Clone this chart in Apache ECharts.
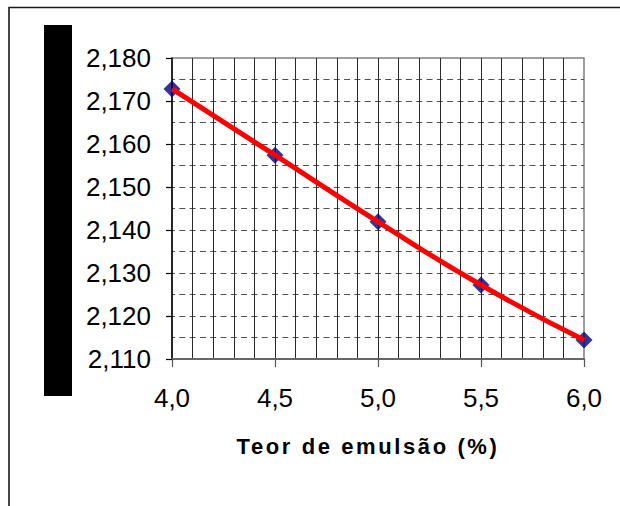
<!DOCTYPE html>
<html>
<head>
<meta charset="utf-8">
<script src="https://cdn.jsdelivr.net/npm/echarts@6/dist/echarts.min.js"></script>
<style>
html,body{margin:0;padding:0;background:#fff;}
#chart{width:620px;height:506px;}
</style>
</head>
<body>
<div id="chart"></div>
<script>
// Data
var emulsionContent = [4.0, 4.5, 5.0, 5.5, 6.0];           // Teor de emulsão (%)
var densityValues  = [2.1728, 2.1574, 2.1419, 2.1272, 2.1144];
var xTickLabels = ['4,0', '4,5', '5,0', '5,5', '6,0'];
var yTickLabels = ['2,110', '2,120', '2,130', '2,140', '2,150', '2,160', '2,170', '2,180'];
var xAxisTitle = 'Teor de emulsão (%)';

var points = emulsionContent.map(function (x, i) { return [x, densityValues[i]]; });
var FONT = "'Liberation Sans', Arial, Helvetica, sans-serif";

var chart = echarts.init(document.getElementById('chart'), null, {renderer: 'svg'});
chart.setOption({
  animation: false,
  backgroundColor: '#ffffff',
  graphic: [
    {type: 'polyline', shape: {points: [[9, 506], [9, 7.5], [620, 7.5]]},
     style: {stroke: '#1a1a1a', lineWidth: 1.6, fill: null}, silent: true},
    {type: 'rect', shape: {x: 44, y: 25, width: 28, height: 371},
     style: {fill: '#000000'}, silent: true}
  ],
  grid: {left: 172, right: 36, top: 58, bottom: 147, show: true,
         borderColor: '#808080', borderWidth: 1.5, backgroundColor: '#ffffff'},
  xAxis: {
    type: 'value', min: 4, max: 6, interval: 0.5,
    name: xAxisTitle, nameLocation: 'middle', nameGap: 76,
    nameTextStyle: {fontFamily: FONT, fontSize: 22, fontWeight: 'bold', color: '#000',
                    padding: [0, 20, 0, 0]},
    axisLine: {lineStyle: {color: '#666666', width: 2}},
    axisTick: {show: true, length: 8, lineStyle: {color: '#555555', width: 1.2}},
    minorTick: {show: false, splitNumber: 5},
    axisLabel: {margin: 26, fontFamily: FONT, fontSize: 26, color: '#000',
                formatter: function (v) { return xTickLabels[Math.round((v - 4) / 0.5)]; }},
    splitLine: {show: true, showMinLine: false, showMaxLine: false,
                lineStyle: {color: '#2a2a2a', width: 1, type: 'solid'}},
    minorSplitLine: {show: true, lineStyle: {color: '#2a2a2a', width: 1, type: 'solid'}}
  },
  yAxis: {
    type: 'value', min: 2.11, max: 2.18, interval: 0.01,
    axisLine: {show: true, lineStyle: {color: '#000000', width: 1.5}},
    axisTick: {show: true, length: 6, lineStyle: {color: '#000', width: 1.2}},
    minorTick: {show: false, splitNumber: 2},
    axisLabel: {margin: 21, fontFamily: FONT, fontSize: 26, color: '#000',
                formatter: function (v) { return yTickLabels[Math.round((v - 2.11) / 0.01)]; }},
    splitLine: {show: true, showMinLine: false, showMaxLine: false,
                lineStyle: {color: '#505050', width: 1, type: [6, 4.3], dashOffset: 3}},
    minorSplitLine: {show: true, lineStyle: {color: '#505050', width: 1, type: [6, 4.3], dashOffset: 3}}
  },
  series: [
    {type: 'scatter', data: points, symbol: 'diamond', symbolSize: 17,
     itemStyle: {color: '#000080'}, z: 2},
    {type: 'line', data: points, smooth: true, showSymbol: false, symbol: 'none',
     lineStyle: {color: '#ff0000', width: 5}, z: 3}
  ]
});

function spaceTitle() {
  var texts = document.querySelectorAll('#chart svg text');
  for (var i = 0; i < texts.length; i++) {
    if (texts[i].textContent === xAxisTitle) {
      texts[i].style.letterSpacing = '2.6px';
    }
  }
}
spaceTitle();
chart.on('finished', spaceTitle);
setTimeout(spaceTitle, 0);
setTimeout(spaceTitle, 200);
</script>
</body>
</html>
